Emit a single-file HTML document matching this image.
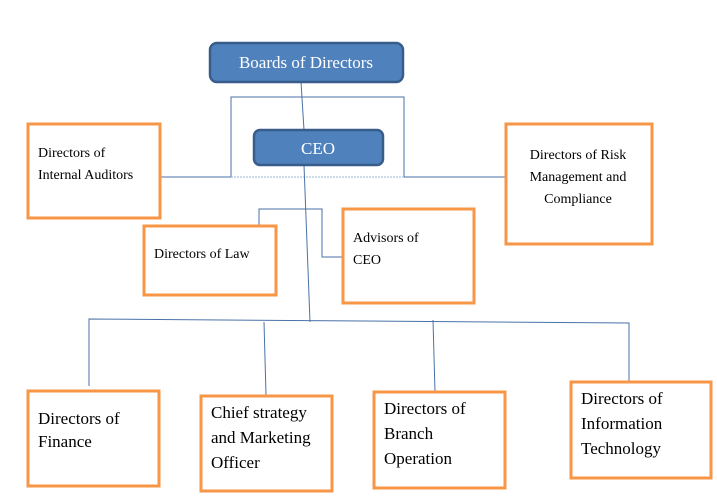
<!DOCTYPE html>
<html><head><meta charset="utf-8"><style>
html,body{margin:0;padding:0;background:#fff;}
svg{display:block;}
svg text{font-family:"Liberation Serif","Times New Roman",serif;fill:#000;}
</style></head><body>
<svg width="717" height="501" viewBox="0 0 717 501" xmlns="http://www.w3.org/2000/svg" font-family="Liberation Serif, serif">
<g stroke="#4a72a8" stroke-width="1" fill="none">
<line x1="301" y1="82" x2="304" y2="130"/>
<polyline points="231,177 231,97 404,97 404,177"/>
<line x1="160" y1="177" x2="231" y2="177"/>
<line x1="231" y1="177" x2="404" y2="177" stroke="#9ab4d6" stroke-dasharray="2,1"/>
<line x1="404" y1="177" x2="505" y2="177"/>
<line x1="304" y1="165" x2="310" y2="322"/>
<polyline points="210,225 259,225 259,209 322,209 322,257 342,257"/>
<polyline points="89,386 89,319 629,323 629,386"/>
<line x1="264" y1="322" x2="266" y2="395"/>
<line x1="433" y1="320" x2="435" y2="392"/>
</g>
<rect x="210" y="43" width="193" height="39" rx="7" fill="#4f81bd" stroke="#385d8a" stroke-width="2.5"/>
<text x="306" y="68" text-anchor="middle" font-size="17" font-family="Liberation Serif, serif" style="fill:#fff">Boards of Directors</text>
<rect x="254" y="130" width="129" height="35" rx="6" fill="#4f81bd" stroke="#385d8a" stroke-width="2.5"/>
<text x="318" y="154" text-anchor="middle" font-size="17" font-family="Liberation Serif, serif" style="fill:#fff">CEO</text>
<g fill="#fff" stroke="#f79646" stroke-width="3">
<rect x="28" y="124" width="132" height="94"/>
<rect x="506" y="124" width="146" height="120"/>
<rect x="144" y="226" width="132" height="69"/>
<rect x="343" y="209" width="131" height="94"/>
<rect x="28" y="391" width="131" height="95"/>
<rect x="201" y="396" width="131" height="95"/>
<rect x="374" y="392" width="131" height="96"/>
<rect x="571" y="382" width="140" height="96"/>
</g>
<g font-size="14" font-family="Liberation Serif, serif">
<text x="38" y="157">Directors of</text>
<text x="38" y="179">Internal Auditors</text>
<text x="578" y="159" text-anchor="middle">Directors of Risk</text>
<text x="578" y="181" text-anchor="middle">Management and</text>
<text x="578" y="203" text-anchor="middle">Compliance</text>
<text x="154" y="258">Directors of Law</text>
<text x="353" y="242">Advisors of</text>
<text x="353" y="264">CEO</text>
</g>
<g font-size="17" font-family="Liberation Serif, serif">
<text x="38" y="424">Directors of</text>
<text x="38" y="447">Finance</text>
<text x="211" y="418">Chief strategy</text>
<text x="211" y="443">and Marketing</text>
<text x="211" y="468">Officer</text>
<text x="384" y="414">Directors of</text>
<text x="384" y="439">Branch</text>
<text x="384" y="464">Operation</text>
<text x="581" y="404">Directors of</text>
<text x="581" y="429">Information</text>
<text x="581" y="454">Technology</text>
</g>
</svg>
</body></html>
